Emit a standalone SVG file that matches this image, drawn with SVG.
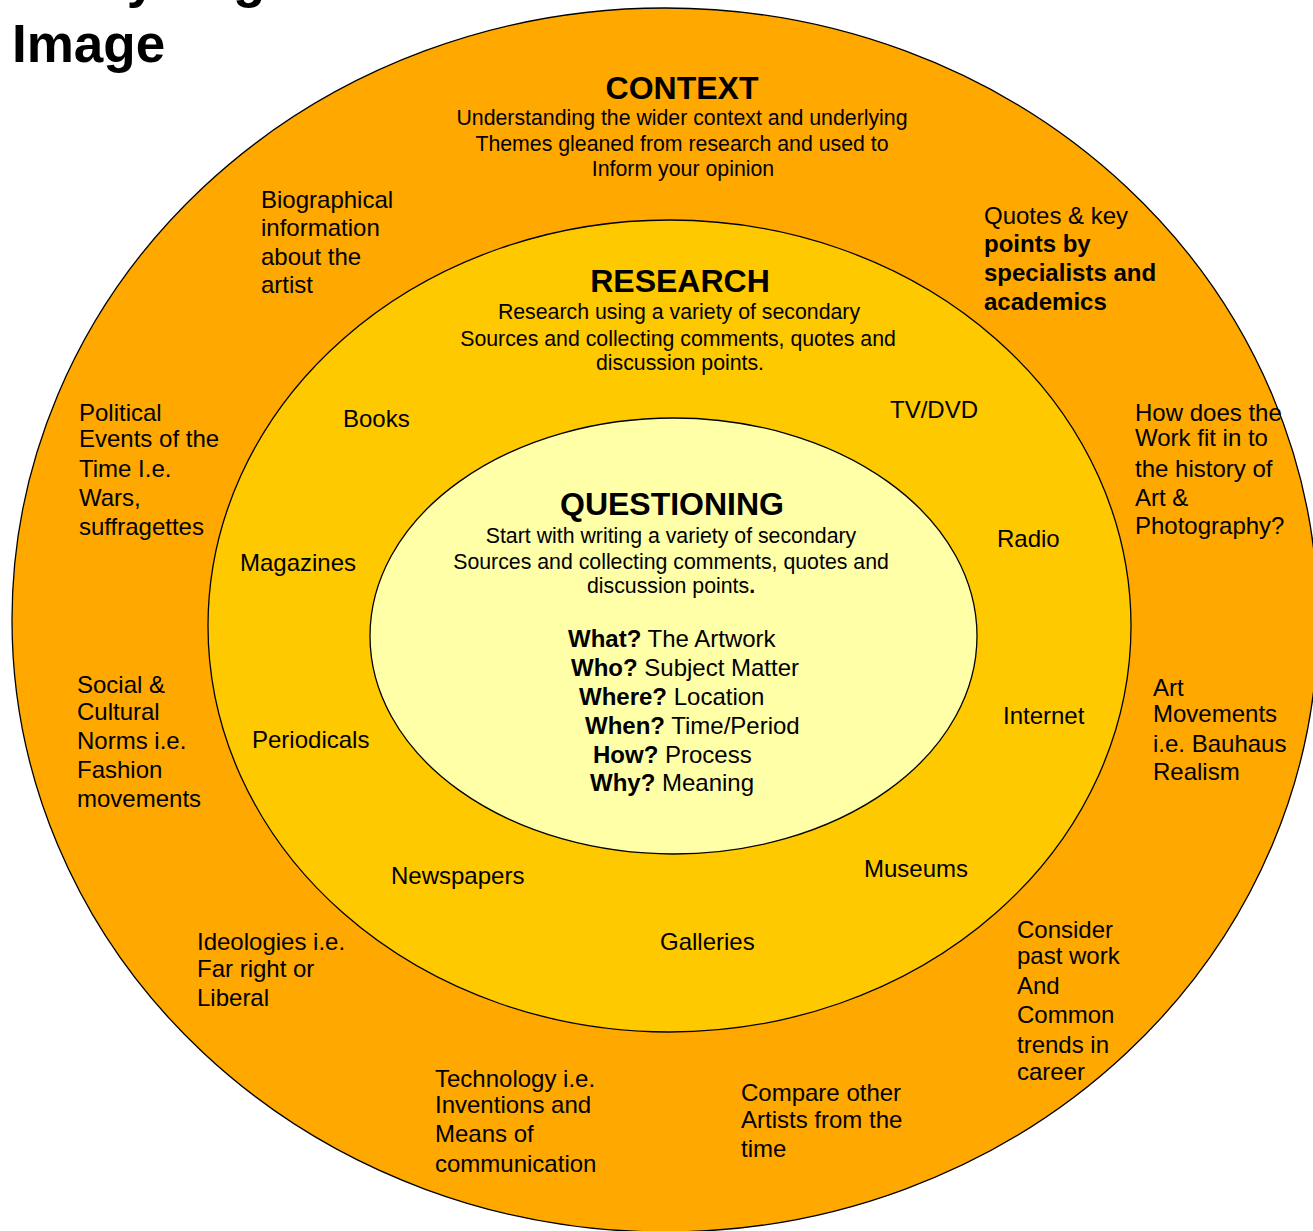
<svg xmlns="http://www.w3.org/2000/svg" width="1313" height="1231" viewBox="0 0 1313 1231">
<style>
text{font-family:"Liberation Sans",Arial,sans-serif;fill:#000}
.ring{stroke:#000;stroke-width:1.3}
.h{font-weight:bold;font-size:32px;text-anchor:middle}
.sub{font-size:21.3px;text-anchor:middle}
.lbl{font-size:24px}
.q{font-size:24px}
.b{font-weight:bold}
.title{font-weight:bold;font-size:53px}
</style>
<rect width="1313" height="1231" fill="#fff"/>
<g id="title">
<text class="title" x="12" y="-3">Analysing</text>
<text class="title" x="12" y="62">Image</text>
</g>
<g id="context">
<ellipse class="ring" cx="665" cy="620" rx="653" ry="612" fill="#FFA800"/>
<text class="h" x="682" y="99">CONTEXT</text>
<text class="sub" x="682" y="125">Understanding the wider context and underlying</text>
<text class="sub" x="682" y="151">Themes gleaned from research and used to</text>
<text class="sub" x="683" y="176">Inform your opinion</text>
</g>
<g id="research">
<ellipse class="ring" cx="669.5" cy="626" rx="461.5" ry="406" fill="#FFC900"/>
<text class="h" x="680" y="292">RESEARCH</text>
<text class="sub" x="679" y="319">Research using a variety of secondary</text>
<text class="sub" x="678" y="346">Sources and collecting comments, quotes and</text>
<text class="sub" x="680" y="370">discussion points.</text>
</g>
<g id="questioning">
<ellipse class="ring" cx="673.5" cy="636" rx="303.5" ry="218" fill="#FFFFA8"/>
<text class="h" x="672" y="515">QUESTIONING</text>
<text class="sub" x="671" y="543">Start with writing a variety of secondary</text>
<text class="sub" x="671" y="569">Sources and collecting comments, quotes and</text>
<text class="sub" x="671" y="593">discussion points<tspan class="b">.</tspan></text>
<text class="q" x="568" y="647"><tspan class="b">What?</tspan> The Artwork</text>
<text class="q" x="571" y="676"><tspan class="b">Who?</tspan> Subject Matter</text>
<text class="q" x="579" y="705"><tspan class="b">Where?</tspan> Location</text>
<text class="q" x="585" y="734"><tspan class="b">When?</tspan> Time/Period</text>
<text class="q" x="593" y="763"><tspan class="b">How?</tspan> Process</text>
<text class="q" x="590" y="791"><tspan class="b">Why?</tspan> Meaning</text>
</g>
<g id="research-sources">
<text class="lbl" x="343" y="427">Books</text>
<text class="lbl" x="890" y="418">TV/DVD</text>
<text class="lbl" x="240" y="571">Magazines</text>
<text class="lbl" x="997" y="547">Radio</text>
<text class="lbl" x="1003" y="724">Internet</text>
<text class="lbl" x="252" y="748">Periodicals</text>
<text class="lbl" x="391" y="884">Newspapers</text>
<text class="lbl" x="864" y="877">Museums</text>
<text class="lbl" x="660" y="950">Galleries</text>
</g>
<g id="context-topics">
<text class="lbl" x="261" y="208">Biographical</text>
<text class="lbl" x="261" y="236">information</text>
<text class="lbl" x="261" y="265">about the</text>
<text class="lbl" x="261" y="293">artist</text>

<text class="lbl" x="79" y="421">Political</text>
<text class="lbl" x="79" y="447">Events of the</text>
<text class="lbl" x="79" y="477">Time I.e.</text>
<text class="lbl" x="79" y="506">Wars,</text>
<text class="lbl" x="79" y="535">suffragettes</text>

<text class="lbl" x="984" y="224">Quotes &amp; key</text>
<text class="lbl b" x="984" y="252">points by</text>
<text class="lbl b" x="984" y="281">specialists and</text>
<text class="lbl b" x="984" y="310">academics</text>

<text class="lbl" x="1135" y="421">How does the</text>
<text class="lbl" x="1135" y="446">Work fit in to</text>
<text class="lbl" x="1135" y="477">the history of</text>
<text class="lbl" x="1135" y="506">Art &amp;</text>
<text class="lbl" x="1135" y="534">Photography?</text>

<text class="lbl" x="1153" y="696">Art</text>
<text class="lbl" x="1153" y="722">Movements</text>
<text class="lbl" x="1153" y="752">i.e. Bauhaus</text>
<text class="lbl" x="1153" y="780">Realism</text>

<text class="lbl" x="77" y="693">Social &amp;</text>
<text class="lbl" x="77" y="720">Cultural</text>
<text class="lbl" x="77" y="749">Norms i.e.</text>
<text class="lbl" x="77" y="778">Fashion</text>
<text class="lbl" x="77" y="807">movements</text>

<text class="lbl" x="197" y="950">Ideologies i.e.</text>
<text class="lbl" x="197" y="977">Far right or</text>
<text class="lbl" x="197" y="1006">Liberal</text>

<text class="lbl" x="435" y="1087">Technology i.e.</text>
<text class="lbl" x="435" y="1113">Inventions and</text>
<text class="lbl" x="435" y="1142">Means of</text>
<text class="lbl" x="435" y="1172">communication</text>

<text class="lbl" x="741" y="1101">Compare other</text>
<text class="lbl" x="741" y="1128">Artists from the</text>
<text class="lbl" x="741" y="1157">time</text>

<text class="lbl" x="1017" y="938">Consider</text>
<text class="lbl" x="1017" y="964">past work</text>
<text class="lbl" x="1017" y="994">And</text>
<text class="lbl" x="1017" y="1023">Common</text>
<text class="lbl" x="1017" y="1053">trends in</text>
<text class="lbl" x="1017" y="1080">career</text>
</g>
<g id="connectors"></g>
</svg>
